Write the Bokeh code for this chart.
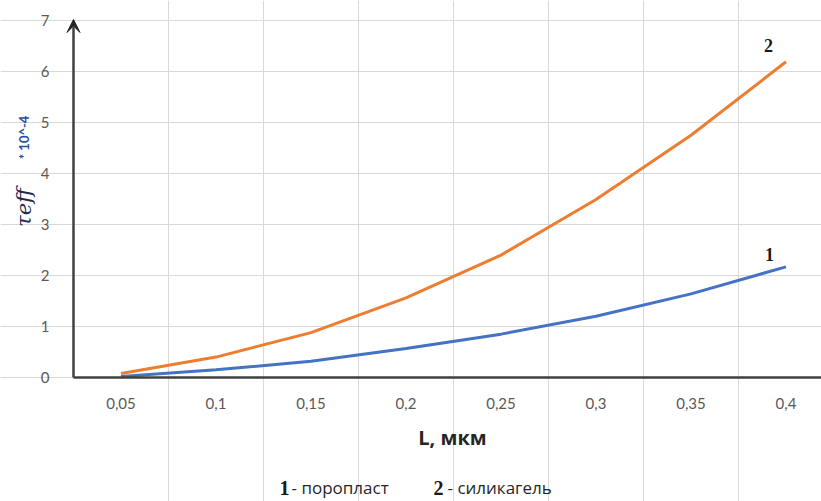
import math
from bokeh.plotting import figure
from bokeh.models import Range1d, FixedTicker, Label, Arrow, VeeHead
from bokeh.embed import file_html
from bokeh.resources import INLINE

categories = ["0,05", "0,1", "0,15", "0,2", "0,25", "0,3", "0,35", "0,4"]
poroplast = [0.02, 0.15, 0.32, 0.57, 0.85, 1.20, 1.64, 2.17]
silikagel = [0.08, 0.40, 0.88, 1.56, 2.40, 3.49, 4.75, 6.19]
y_ticks = [0, 1, 2, 3, 4, 5, 6, 7]

xs = list(range(len(categories)))
PX = 95.0   # px per category
PY = 51.0   # px per y unit
W, H = 821, 501
X0 = -0.5 - 73 / PX          # canvas left edge in data units
X1 = X0 + W / PX
Y1 = 377 / PY                # canvas top
Y0 = Y1 - H / PY             # canvas bottom


def dx(px):  # canvas x -> data
    return -0.5 + (px - 73) / PX


def dy(py):  # canvas y -> data
    return (377 - py) / PY


p = figure(width=W, height=H, output_backend="svg", toolbar_location=None,
           x_range=Range1d(X0, X1), y_range=Range1d(Y0, Y1),
           min_border_left=0, min_border_right=0, min_border_top=0, min_border_bottom=0)
p.outline_line_color = None

p.xgrid.ticker = FixedTicker(ticks=[i + 0.5 for i in range(len(categories))])
p.xgrid.grid_line_color = "#d9d9d9"
p.xgrid.bounds = (0, 7)
p.ygrid.ticker = FixedTicker(ticks=y_ticks)
p.ygrid.grid_line_color = "#d9d9d9"
p.ygrid.bounds = (-0.5, X1)

p.xaxis.ticker = FixedTicker(ticks=xs)
p.xaxis.major_label_overrides = {i: c for i, c in enumerate(categories)}
p.xaxis.fixed_location = 0
p.xaxis.bounds = (-0.5, X1)
p.yaxis.ticker = FixedTicker(ticks=y_ticks)
p.yaxis.fixed_location = -0.5
p.yaxis.bounds = (0, 7)
for ax in (p.xaxis[0], p.yaxis[0]):
    ax.major_tick_line_color = None
    ax.minor_tick_line_color = None
    ax.major_label_text_font = "Lato"
    ax.major_label_text_font_size = "15px"
    ax.major_label_text_color = "#595959"
p.xaxis.axis_line_color = "#404040"
p.xaxis.axis_line_width = 2.5
p.yaxis.axis_line_color = None
p.xaxis.major_label_standoff = 14
p.yaxis.major_label_standoff = 18

# y axis line with arrow head
p.add_layout(Arrow(end=VeeHead(size=13, fill_color="#262626", line_color="#262626", line_width=1),
                   x_start=-0.5, y_start=0, x_end=-0.5, y_end=7.02,
                   line_color="#404040", line_width=2.5))

p.line(xs, silikagel, line_color="#ED7D31", line_width=3)
p.line(xs, poroplast, line_color="#4472C4", line_width=3)

# curve numbers
p.add_layout(Label(x=dx(768), y=dy(45), text="2", text_font="Times New Roman", text_font_style="bold",
                   text_font_size="18px", text_align="center", text_baseline="middle", text_color="#1a1a1a"))
p.add_layout(Label(x=dx(769), y=dy(254), text="1", text_font="Times New Roman", text_font_style="bold",
                   text_font_size="18px", text_align="center", text_baseline="middle", text_color="#1a1a1a"))

# axis titles
p.add_layout(Label(x=dx(452), y=dy(437), text="L, мкм", text_font="Open Sans", text_font_style="bold",
                   text_font_size="20px", text_align="center", text_baseline="middle", text_color="#262626"))
p.add_layout(Label(x=dx(23), y=dy(207), text="τeff", angle=math.pi / 2, text_font="DejaVu Serif",
                   text_font_style="italic", text_font_size="21px", text_align="center",
                   text_baseline="middle", text_color="#1f2a4d"))
p.add_layout(Label(x=dx(23), y=dy(137), text="* 10^-4", angle=math.pi / 2, text_font="Lato",
                   text_font_style="bold", text_font_size="13px", text_align="center",
                   text_baseline="middle", text_color="#2a4d9b"))

# bottom legend
ly = dy(487)
p.add_layout(Label(x=dx(279), y=ly, text="1", text_font="Times New Roman", text_font_style="bold",
                   text_font_size="20px", text_align="left", text_baseline="middle", text_color="#1a1a1a"))
p.add_layout(Label(x=dx(291), y=ly, text="- поропласт", text_font="Open Sans", text_font_size="17px",
                   text_align="left", text_baseline="middle", text_color="#262626"))
p.add_layout(Label(x=dx(433), y=ly, text="2", text_font="Times New Roman", text_font_style="bold",
                   text_font_size="20px", text_align="left", text_baseline="middle", text_color="#1a1a1a"))
p.add_layout(Label(x=dx(447), y=ly, text="- силикагель", text_font="Open Sans", text_font_size="17px",
                   text_align="left", text_baseline="middle", text_color="#262626"))

open("out.html", "w").write(file_html(p, INLINE))
